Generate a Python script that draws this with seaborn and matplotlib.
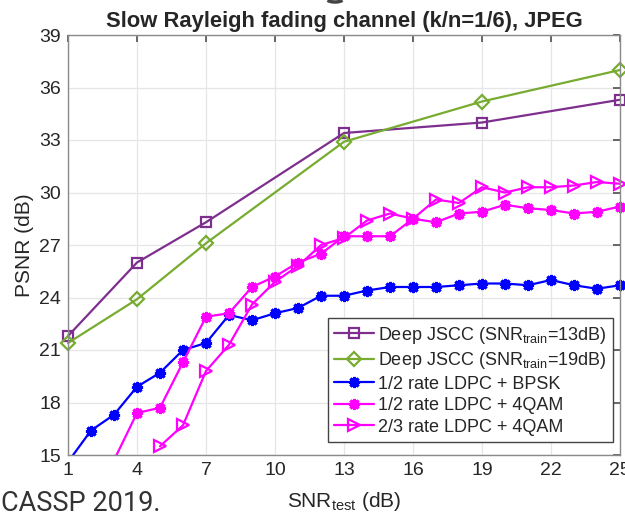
import matplotlib
matplotlib.use("Agg")
import matplotlib.pyplot as plt
from matplotlib.patches import Rectangle, Arc
import seaborn as sns

# SNR_test values (dB) and PSNR (dB) for each scheme
snr_jscc = [1, 4, 7, 13, 19, 25]
psnr_jscc13 = [21.8, 26.0, 28.3, 33.4, 34.0, 35.3]
psnr_jscc19 = [21.4, 23.9, 27.1, 32.9, 35.2, 37.0]

snr_bpsk = list(range(1, 26))
psnr_bpsk = [14.6, 16.4, 17.3, 18.9, 19.7, 21.0, 21.4, 23.0, 22.7, 23.1,
             23.4, 24.1, 24.1, 24.4, 24.6, 24.6, 24.6, 24.7, 24.8, 24.8,
             24.7, 25.0, 24.7, 24.5, 24.7]

snr_4qam12 = list(range(3, 26))
psnr_4qam12 = [14.7, 17.4, 17.7, 20.3, 22.9, 23.1, 24.6, 25.2, 26.0, 26.5,
               27.5, 27.5, 27.5, 28.5, 28.3, 28.8, 28.9, 29.3, 29.1, 29.0,
               28.8, 28.9, 29.2]

snr_4qam23 = list(range(5, 26))
psnr_4qam23 = [15.5, 16.7, 19.8, 21.3, 23.6, 24.9, 25.8, 27.0, 27.4, 28.4,
               28.8, 28.5, 29.6, 29.4, 30.3, 30.0, 30.3, 30.3, 30.4, 30.6,
               30.5]

x_ticks = [1, 4, 7, 10, 13, 16, 19, 22, 25]
y_ticks = [15, 18, 21, 24, 27, 30, 33, 36, 39]

labels = [r"Deep JSCC (SNR$_{\mathrm{train}}$=13dB)",
          r"Deep JSCC (SNR$_{\mathrm{train}}$=19dB)",
          "1/2 rate LDPC + BPSK",
          "1/2 rate LDPC + 4QAM",
          "2/3 rate LDPC + 4QAM"]

sns.set_theme(style="white")
plt.rcParams["font.family"] = ["Liberation Sans", "DejaVu Sans"]
plt.rcParams["mathtext.fontset"] = "custom"
plt.rcParams["mathtext.rm"] = "Liberation Sans"
plt.rcParams["mathtext.it"] = "Liberation Sans:italic"
plt.rcParams["mathtext.bf"] = "Liberation Sans:bold"

fig = plt.figure(figsize=(6.25, 5.17), dpi=100)
ax = fig.add_axes([68 / 625, 1 - 455 / 517, 552 / 625, 420 / 517])

purple = "#7E2F8E"
green = "#77AC30"
blue = "#0000FF"
magenta = "#FF00FF"
lw = 1.6

# (x, y, colour, marker, face colour, size, edge width)
series = [
    (snr_jscc, psnr_jscc13, purple, "s", "none", 7, 1.6),
    (snr_jscc, psnr_jscc19, green, "D", "none", 7, 1.6),
    (snr_bpsk, psnr_bpsk, blue, (8, 2, 0), blue, 8, 2.2),
    (snr_4qam12, psnr_4qam12, magenta, (8, 2, 0), magenta, 8, 2.2),
    (snr_4qam23, psnr_4qam23, magenta, ">", "none", 9, 1.6),
]

for (xs, ys, col, mk, mfc, ms, mew), lab in zip(series, labels):
    sns.lineplot(x=xs, y=ys, ax=ax, color=col, marker=mk, markersize=ms,
                 markerfacecolor=mfc, markeredgecolor=col, markeredgewidth=mew,
                 linewidth=lw, label=lab, legend=False)

# let markers at the left/right edges overhang the axes, clip vertically only
clip = Rectangle((-0.05, 0), 1.1, 1, transform=ax.transAxes)
for ln in ax.lines:
    ln.set_clip_path(clip)

ax.set_xlim(1, 25)
ax.set_ylim(15, 39)
ax.set_xticks(x_ticks)
ax.set_yticks(y_ticks)
ax.tick_params(axis="both", direction="in", labelsize=14, length=5,
               top=True, right=True, color="#555555", pad=5)
ax.grid(True, color="#e6e6e6", linewidth=0.9)
for sp in ax.spines.values():
    sp.set_color("#8a8a8a")
    sp.set_linewidth(1.0)

ax.set_title("Slow Rayleigh fading channel (k/n=1/6), JPEG",
             fontsize=15.8, fontweight="bold", pad=6)
ax.set_xlabel(r"SNR$_{\mathrm{test}}$ (dB)", fontsize=15, labelpad=8)
ax.set_ylabel("PSNR (dB)", fontsize=15, labelpad=4)

leg = ax.legend(loc="lower right", bbox_to_anchor=(0.987, 0.031),
                fontsize=13, frameon=True, fancybox=False, framealpha=1,
                edgecolor="#444444", handlelength=2.2, handletextpad=0.2,
                borderpad=0.35, labelspacing=0.25, borderaxespad=0)
leg.get_frame().set_linewidth(1.0)

fig.text(1 / 625, 1 - 511 / 517, "CASSP 2019.", fontsize=19.5,
         family="Roboto", color="#333333", ha="left", va="baseline")
fig.patches.append(Arc((335 / 625, 1 + 2 / 517), 18 / 625, 8 / 517,
                       theta1=200, theta2=340, transform=fig.transFigure,
                       color="#444444", linewidth=2.5, figure=fig))

fig.savefig("out.png", dpi=100)
